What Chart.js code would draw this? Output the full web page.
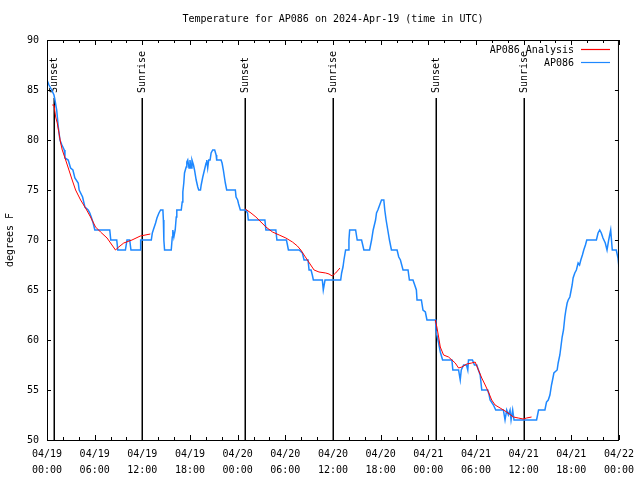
<!DOCTYPE html>
<html>
<head>
<meta charset="utf-8">
<script src="https://cdn.jsdelivr.net/npm/chart.js@4.4.1/dist/chart.umd.min.js"></script>
<style>
  body { margin: 0; background: #fff; }
  canvas { display: block; }
</style>
</head>
<body>
<canvas id="tempChart" width="640" height="480"></canvas>
<script>
/* ---------- data (hours since 04/19 00:00 UTC) ---------- */
const obsHours = [
  0,0.25,0.59,0.88,1.00,1.22,1.42,1.63,1.88,2.17,
  2.26,2.67,2.97,3.26,3.51,3.93,4.05,4.48,4.77,5.18,
  5.39,5.61,5.81,6.02,7.90,8.03,8.78,8.91,9.87,10.07,
  10.41,10.57,11.75,11.79,13.13,13.26,13.42,13.67,13.84,14.09,
  14.30,14.59,14.65,14.71,14.80,15.64,15.77,15.84,15.97,16.14,
  16.27,16.34,16.90,17.02,17.10,17.22,17.31,17.52,17.60,17.72,
  17.88,18.00,18.13,18.25,18.44,18.57,18.78,18.98,19.10,19.32,
  19.41,19.61,19.82,20.03,20.11,20.23,20.36,20.53,20.66,20.86,
  21.11,21.29,21.36,21.91,22.04,22.20,22.33,22.45,22.62,23.71,
  23.80,24.00,24.12,24.34,25.03,25.25,25.34,27.43,27.56,28.81,
  28.94,30.14,30.27,30.39,31.74,32.15,32.36,32.86,32.99,33.24,
  33.40,33.53,34.66,34.78,35.00,36.97,37.09,37.26,37.38,37.59,
  37.92,38.01,38.10,38.85,39.05,39.60,39.89,40.61,40.86,41.06,
  41.36,41.48,41.65,42.11,42.40,42.52,42.69,42.90,43.11,43.36,
  44.07,44.28,44.49,44.82,45.45,45.62,46.07,46.29,46.50,46.58,
  47.13,47.33,47.63,47.83,48.92,48.96,49.08,49.30,49.51,49.80,
  50.97,51.09,51.81,52.02,52.15,52.44,52.81,52.97,53.06,53.56,
  53.81,54.10,54.31,54.53,54.73,55.48,55.66,55.78,56.20,56.49,
  57.45,57.66,57.87,58.08,58.29,58.42,58.62,58.79,61.63,61.88,
  62.68,62.88,63.10,63.31,63.51,63.64,63.81,64.22,64.35,64.56,
  64.69,64.85,65.02,65.19,65.32,65.48,65.61,65.82,65.94,66.11,
  66.23,66.44,66.64,66.86,67.04,67.20,67.40,67.57,67.78,67.95,
  69.16,69.37,69.58,69.78,69.99,70.28,70.50,70.71,70.96,71.16,
  71.66,71.88,72.00
];
const obsTemps = [
  86,85.5,85,84.5,84,83,81.3,80,79.5,79,
  78.2,78,77.2,77,76.2,75.7,75,74.3,73.3,73,
  72.7,72.2,71.7,71,71,70,70,69,69,70,
  70,69,69,70,70,70.7,71.1,71.7,72.2,72.7,
  73,73,72,70,69,69,70.3,71,70.3,71,
  72.3,73,73,73.8,74.8,75.7,76.7,77.3,77.8,78,
  77.2,78,77.2,78,77.5,77,76,75.3,75,75,
  75.5,76.3,77,77.7,78,77.2,78,78,78.7,79,
  79,78.5,78,78,77.7,77,76.3,75.7,75,75,
  74.3,74,73.6,73,73,72.7,72,72,71,71,
  70,70,69.5,69,69,68.7,68,68,67,67,
  66.5,66,66,65,66,66,66.7,67.3,68,69,
  69,70,71,71,70,70,69,69,70,71,
  72,72.7,73,74,74,73,72,71,70,69,
  69,68.3,68,67,67,66,66,65.5,65,64,
  64,63,62.8,62,62,61,60.5,59.7,58.8,58,
  58,57,57,56,57,57.5,57.5,57,58,58,
  57.5,57.5,57,56.5,55,55,54.5,54,53.5,53,
  53,52,53,52.5,53,52,53,52,52,53,
  53,53.8,54,54.5,55.5,56,56.7,57,57.7,58.5,
  59.3,60.3,61,62.3,63,63.7,64,64.3,64.8,65.5,
  66.2,66.7,67,67.7,67.5,68,68.5,69,69.5,70,
  70,70.7,71,70.7,70.2,69.7,69,70,71,69,
  69,68.2,67.3
];

// analysis: three night segments, null breaks the line
const anaHours = [
  0.66,0.88,1.09,1.29,1.51,1.72,1.92,2.35,2.76,3.17,3.60,4.23,
  4.85,5.48,6.11,6.74,7.56,8.62,9.03,9.66,10.70,11.75,13.01,
  18,
  24.96,25.68,26.30,26.93,27.56,28.39,29.23,30.07,30.90,31.52,31.95,
  32.36,32.78,33.20,33.62,34.24,35.09,35.50,35.91,36.34,36.88,
  42,
  48.88,49.08,49.30,49.51,49.92,50.55,50.97,51.39,51.81,52.22,52.85,53.47,
  53.90,54.31,54.73,55.16,55.57,55.98,56.41,57.04,57.87,58.71,59.33,59.96,
  60.37,61.00
];
const anaTemps = [
  83.5,83.5,82.3,81.7,80.7,79.7,79,78,77,76,75,74,
  73.2,72.3,71.3,70.8,70.2,69,69.3,69.7,70,70.4,70.6,
  null,
  73.1,72.7,72.3,71.8,71.3,70.8,70.5,70.2,69.8,69.4,69.0,
  68.5,68.0,67.5,67.0,66.8,66.7,66.6,66.4,66.7,67.2,
  null,
  62,61.3,60.3,59.3,58.5,58.3,58,57.7,57.2,57.3,57.6,57.7,
  57.8,57,56.2,55.5,54.8,54,53.5,53.2,52.8,52.3,52.2,52.1,
  52.2,52.3
];

const eventHours  = [0.92, 11.95, 24.87, 36.04, 48.96, 60.00];
const eventLabels = ["Sunset","Sunrise","Sunset","Sunrise","Sunset","Sunrise"];

const yTicks = [50,55,60,65,70,75,80,85,90];
const dayLabels = ["04/19","04/20","04/21","04/22"];

const FONT = "'DejaVu Sans Mono', monospace";
const RED = "#ff0000";
const BLUE = "#1e88ff";

/* ---------- frame, ticks, sun events, legend ---------- */
const framePlugin = {
  id: "frame",
  beforeDatasetsDraw(chart) {
    const { ctx, chartArea: a, scales: { x } } = chart;
    ctx.save();
    ctx.font = "10px " + FONT;
    ctx.fillStyle = "#000";
    ctx.strokeStyle = "#000";
    ctx.lineWidth = 1.5;
    eventHours.forEach((h, i) => {
      const px = Math.round(x.getPixelForValue(h)) + 0.25;
      ctx.beginPath();
      ctx.moveTo(px, a.bottom);
      ctx.lineTo(px, 98);
      ctx.stroke();
      ctx.save();
      ctx.translate(px, 93);
      ctx.rotate(-Math.PI / 2);
      ctx.textAlign = "left";
      ctx.textBaseline = "middle";
      ctx.fillText(eventLabels[i], 0, 0);
      ctx.restore();
    });
    ctx.restore();
  },
  afterDraw(chart) {
    const { ctx, chartArea: a, scales: { x, y } } = chart;
    ctx.save();
    ctx.strokeStyle = "#000";
    ctx.lineWidth = 1;
    ctx.strokeRect(a.left + 0.5, a.top + 0.5, a.right - a.left - 1, a.bottom - a.top);
    ctx.beginPath();
    for (let h = 0; h <= 72; h += 2) {
      const px = Math.round(x.getPixelForValue(h)) + 0.5;
      const len = h % 6 === 0 ? 5 : 3;
      ctx.moveTo(px, a.bottom); ctx.lineTo(px, a.bottom - len);
      ctx.moveTo(px, a.top); ctx.lineTo(px, a.top + len);
    }
    yTicks.forEach(t => {
      const py = Math.round(y.getPixelForValue(t)) + 0.5;
      ctx.moveTo(a.left, py); ctx.lineTo(a.left + 4, py);
      ctx.moveTo(a.right, py); ctx.lineTo(a.right - 4, py);
    });
    ctx.stroke();

    // legend
    ctx.font = "10px " + FONT;
    ctx.fillStyle = "#000";
    ctx.textAlign = "right";
    ctx.textBaseline = "middle";
    const items = [[chart.data.datasets[0].label, RED, 50], [chart.data.datasets[1].label, BLUE, 63]];
    items.forEach(([txt, col, ly]) => {
      ctx.fillText(txt, 574, ly);
      ctx.strokeStyle = col;
      ctx.lineWidth = 1.2;
      ctx.beginPath();
      ctx.moveTo(581, ly - 0.5);
      ctx.lineTo(610, ly - 0.5);
      ctx.stroke();
    });
    ctx.restore();
  }
};

const obsPts = obsHours.map((h, i) => ({ x: h, y: obsTemps[i] }));
const anaPts = anaHours.map((h, i) => ({ x: h, y: anaTemps[i] }));

new Chart(document.getElementById("tempChart"), {
  type: "line",
  data: {
    datasets: [
      { label: "AP086 Analysis", data: anaPts, borderColor: RED, borderWidth: 1,
        pointRadius: 0, tension: 0, spanGaps: false },
      { label: "AP086", data: obsPts, borderColor: BLUE, borderWidth: 1.5,
        pointRadius: 0, tension: 0 }
    ]
  },
  options: {
    responsive: false,
    animation: false,
    layout: { padding: { left: 0, right: 19, top: 0, bottom: 0 } },
    plugins: {
      legend: { display: false },
      tooltip: { enabled: false },
      title: {
        display: true,
        fullSize: false,
        text: "Temperature for AP086 on 2024-Apr-19 (time in UTC)",
        color: "#000",
        font: { family: FONT, size: 10, weight: "normal", lineHeight: 1.3 },
        padding: { top: 13, bottom: 14 }
      }
    },
    scales: {
      x: {
        type: "linear", min: 0, max: 72,
        grid: { display: false, drawTicks: false },
        border: { display: false },
        ticks: {
          stepSize: 6, autoSkip: false, maxRotation: 0, color: "#000", padding: 6,
          font: { family: FONT, size: 10, lineHeight: 1.6 },
          callback: v => {
            const d = dayLabels[Math.floor(v / 24)];
            const hh = String(v % 24).padStart(2, "0");
            return [d, hh + ":00"];
          }
        },
        afterFit: s => { s.height = 40; }
      },
      y: {
        min: 50, max: 90,
        grid: { display: false, drawTicks: false },
        border: { display: false },
        ticks: { stepSize: 5, color: "#000", padding: 8, font: { family: FONT, size: 10 } },
        title: { display: true, text: "degrees F", color: "#000",
                 font: { family: FONT, size: 10 }, padding: { top: 4, bottom: 0 } },
        afterFit: s => { s.width = 47; }
      }
    }
  },
  plugins: [framePlugin]
});
</script>
</body>
</html>
